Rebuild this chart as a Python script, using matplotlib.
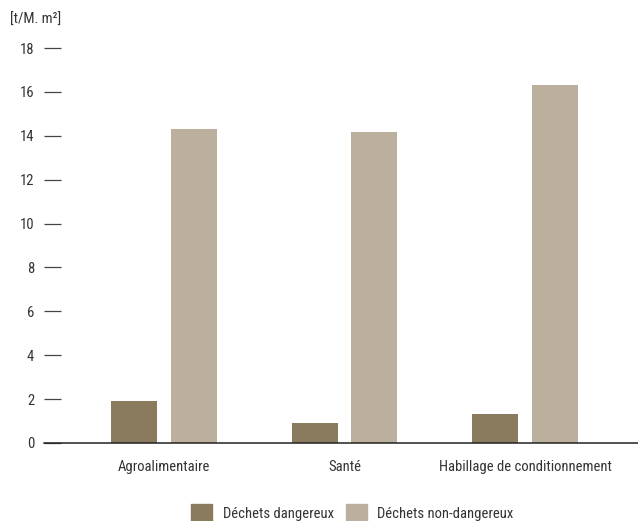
import matplotlib.pyplot as plt
from matplotlib.patches import Patch
import numpy as np

# données
categories = ["Agroalimentaire", "Santé", "Habillage de conditionnement"]
dangereux = [1.9, 0.9, 1.3]
non_dangereux = [14.3, 14.15, 16.3]
yticks = [0, 2, 4, 6, 8, 10, 12, 14, 16, 18]

col_dark = "#8b7b5e"
col_light = "#bab09d"
txt = "#333333"

# police condensée proche de l'original
plt.rcParams["font.family"] = ["Roboto Condensed", "Liberation Sans", "DejaVu Sans"]
plt.rcParams["font.size"] = 10.5

fig = plt.figure(figsize=(6.38, 5.21), dpi=100)
ax = fig.add_axes([44 / 638, 78 / 521, 594 / 638, 395 / 521])

x = np.arange(len(categories))
w = 0.255
off = 0.166
ax.bar(x - off, dangereux, w, color=col_dark)
ax.bar(x + off, non_dangereux, w, color=col_light)

ax.set_xlim(-0.665, 2.626)
ax.set_ylim(0, 18)
ax.set_xticks(x)
ax.set_xticklabels(categories, color=txt)
ax.set_yticks(yticks)
ax.set_yticklabels([str(v) for v in yticks], color=txt)
# les tirets à droite des chiffres = ticks vers l'intérieur
ax.tick_params(axis="y", direction="in", length=12, width=0.9,
               color="#444444", pad=7)
ax.tick_params(axis="x", length=0, pad=12)
for s in ["top", "right", "left"]:
    ax.spines[s].set_visible(False)
ax.spines["bottom"].set_color("#222222")
ax.spines["bottom"].set_linewidth(1.1)

fig.text(10 / 638, 1 - 20 / 521, "[t/M. m²]", color=txt, va="center", ha="left")

handles = [Patch(color=col_dark), Patch(color=col_light)]
fig.legend(handles, ["Déchets dangereux", "Déchets non-dangereux"],
           loc="center", bbox_to_anchor=(0.552, 1 - 513 / 521), ncol=2,
           frameon=False, handlelength=1.44, handleheight=1.44,
           handletextpad=0.75, columnspacing=0.82, labelcolor=txt,
           borderpad=0)

fig.savefig("out.png", dpi=100)
